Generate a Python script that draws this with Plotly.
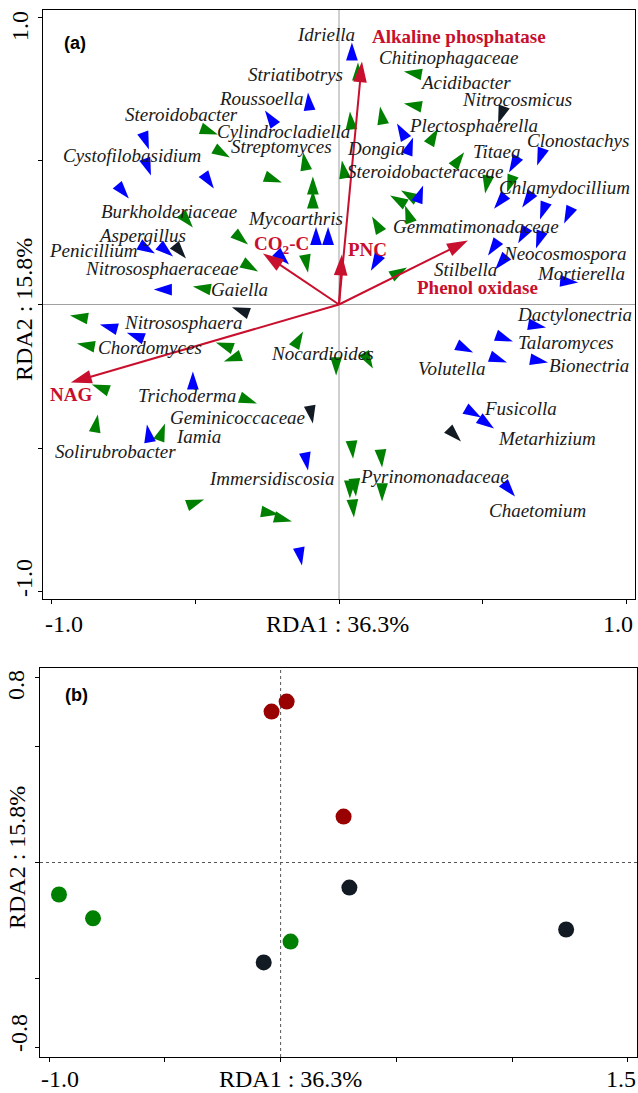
import plotly.graph_objects as go

RED = "#C8102E"
BLUE = "#0000FF"
GREEN = "#008000"
BLACK = "#121A24"
DARKRED = "#990000"
SERIF = "Liberation Serif"
W, H = 638, 1093

# ---------------- Panel (a): taxa scores (arrowhead tips) and orientation (deg) ----
blue_x = [0.045, -0.108, -0.258, 0.202, 0.258, -0.662, -0.655, -0.436, 0.690, 0.592,
          0.293, 0.540, 0.638, 0.700, 0.784, 0.624, 0.686, 0.519, 0.544, 0.833,
          0.111, 0.721, 0.606, 0.467, 0.585, 0.728, -0.732, -0.641, -0.578, -0.174,
          -0.645, -0.833, -0.739, -0.509, -0.669, -0.108, -0.129, 0.495, 0.540, 0.613,
          -0.080, -0.038]
blue_y = [0.913, 0.739, 0.676, 0.631, 0.582, 0.540, 0.449, 0.404, 0.484, 0.460,
          0.415, 0.334, 0.338, 0.296, 0.282, 0.213, 0.195, 0.171, 0.122, 0.077,
          0.118, -0.080, -0.129, -0.167, -0.202, -0.202, 0.369, 0.178, 0.167, 0.139,
          0.052, -0.070, -0.098, -0.233, -0.418, -0.578, -0.909, -0.394, -0.432, -0.669,
          0.270, 0.270]
blue_ang = [0, -5, -35, -30, 20, 160, 160, 145, 200, 210,
            20, 220, 215, 200, 205, 210, 200, 215, 220, 95,
            210, 100, 110, 115, 110, 100, 140, 120, 130, 135,
            -90, -75, -70, 0, -10, 170, 170, 120, 125, 140,
            0, 0]

green_x = [0.066, 0.226, 0.226, 0.038, 0.143, 0.345, 0.436, -0.422, -0.380, -0.199,
           -0.125, -0.091, -0.091, 0.010, 0.509, 0.585, 0.178, 0.216, 0.230, 0.115,
           0.237, 0.118, -0.010, -0.509, -0.317, -0.108, -0.282, -0.509, -0.937, -0.913,
           -0.429, -0.401, -0.125, -0.861, -0.286, -0.840, -0.606, -0.470, -0.209, -0.164,
           0.049, 0.150, 0.038, 0.059, 0.150, 0.052]
green_y = [0.843, 0.812, 0.700, 0.672, 0.690, 0.613, 0.530, 0.592, 0.512, 0.425,
           0.530, 0.446, 0.397, 0.502, 0.387, 0.390, 0.380, 0.397, 0.345, 0.307,
           0.129, -0.223, -0.247, 0.268, 0.209, 0.111, 0.115, 0.063, -0.038, -0.136,
           -0.132, -0.199, -0.094, -0.279, -0.345, -0.383, -0.415, -0.679, -0.732, -0.756,
           -0.537, -0.568, -0.676, -0.669, -0.686, -0.742]
green_ang = [0, -80, -80, -5, -10, 30, 37, 110, 120, 110,
             -10, 0, 0, -10, 190, 200, -60, -60, -20, -30,
             60, 150, 180, 140, 130, 170, 120, -80, -80, -80,
             -70, -110, 30, -70, 110, 10, 20, 70, 100, 105,
             175, 175, 180, 175, 180, 175]

black_x = [0.554, -0.533, -0.373, -0.091, 0.425]
black_y = [0.631, 0.160, -0.010, -0.415, -0.477]
black_ang = [200, 140, -70, 170, 135]

# Taxon names and where their labels sit
taxa = ["Idriella", "Chitinophagaceae", "Striatibotrys", "Acidibacter", "Roussoella",
        "Nitrocosmicus", "Steroidobacter", "Plectosphaerella", "Cylindrocladiella",
        "Clonostachys", "Streptomyces", "Dongia", "Titaea", "Cystofilobasidium",
        "Steroidobacteraceae", "Chlamydocillium", "Burkholderiaceae", "Mycoarthris",
        "Gemmatimonadaceae", "Aspergillus", "Penicillium", "Neocosmospora",
        "Nitrososphaeraceae", "Stilbella", "Mortierella", "Gaiella", "Dactylonectria",
        "Nitrososphaera", "Talaromyces", "Chordomyces", "Nocardioides", "Bionectria",
        "Volutella", "Trichoderma", "Fusicolla", "Geminicoccaceae", "Iamia",
        "Metarhizium", "Solirubrobacter", "Pyrinomonadaceae", "Immersidiscosia",
        "Chaetomium"]
taxa_lx = [-0.045, 0.380, -0.153, 0.439, -0.272, 0.620, -0.547, 0.470, -0.195,
           0.833, -0.199, 0.129, 0.551, -0.721, 0.303, 0.784, -0.592, -0.153,
           0.477, -0.686, -0.854, 0.787, -0.620, 0.439, 0.843, -0.345, 0.819,
           -0.540, 0.791, -0.659, -0.056, 0.871, 0.394, -0.530, 0.631, -0.352,
           -0.491, 0.725, -0.780, 0.331, -0.233, 0.693]
taxa_ly = [0.941, 0.861, 0.801, 0.774, 0.718, 0.714, 0.662, 0.624, 0.603,
           0.571, 0.551, 0.544, 0.533, 0.519, 0.463, 0.408, 0.324, 0.300,
           0.272, 0.240, 0.188, 0.178, 0.125, 0.122, 0.108, 0.052, -0.035,
           -0.063, -0.132, -0.150, -0.171, -0.213, -0.223, -0.317, -0.362, -0.394,
           -0.460, -0.467, -0.512, -0.599, -0.606, -0.718]

# Environmental vectors
env_names = ["Alkaline phosphatase", "CO<sub>2</sub>-C", "PNC", "Phenol oxidase", "NAG"]
env_x = [0.080, -0.265, 0.010, 0.449, -0.934]
env_y = [0.847, 0.178, 0.174, 0.223, -0.272]
env_lx = [0.418, -0.202, 0.098, 0.484, -0.934]
env_ly = [0.934, 0.209, 0.192, 0.059, -0.314]

# ---------------- Panel (b): sample scores ----------------
samp_x_red = [-0.039, 0.026, 0.272]
samp_y_red = [0.651, 0.694, 0.198]
samp_x_green = [-0.957, -0.810, 0.043]
samp_y_green = [-0.138, -0.241, -0.341]
samp_x_black = [-0.073, 0.297, 1.233]
samp_y_black = [-0.431, -0.108, -0.289]

# Axis texts: (text, x px, y px, rotated)
axis_texts = [
    ("-1.0", 64, 624, False), ("RDA1 : 36.3%", 337, 624, False), ("1.0", 618, 624, False),
    ("1.0", 20, 26, True), ("RDA2 : 15.8%", 24, 310, True), ("-1.0", 24, 578, True),
    ("-1.0", 60, 1079, False), ("RDA1 : 36.3%", 290, 1079, False), ("1.5", 621, 1079, False),
    ("0.8", 16, 685, True), ("RDA2 : 15.8%", 17, 858, True), ("-0.8", 19, 1033, True),
]

fig = go.Figure()

# zero reference lines
fig.add_shape(type="line", xref="x", yref="y domain", x0=0, x1=0, y0=0, y1=1,
              line=dict(color="#A0A0A0", width=1), layer="below")
fig.add_shape(type="line", xref="x domain", yref="y", x0=0, x1=1, y0=0, y1=0,
              line=dict(color="#A0A0A0", width=1), layer="below")
fig.add_shape(type="line", xref="x2", yref="y2 domain", x0=0, x1=0, y0=0, y1=1,
              line=dict(color="#555555", width=1, dash="dot"), layer="below")
fig.add_shape(type="line", xref="x2 domain", yref="y2", x0=0, x1=1, y0=0, y1=0,
              line=dict(color="#555555", width=1, dash="dot"), layer="below")

for xs, ys, angs, col in [(green_x, green_y, green_ang, GREEN),
                          (blue_x, blue_y, blue_ang, BLUE),
                          (black_x, black_y, black_ang, BLACK)]:
    fig.add_trace(go.Scatter(
        x=xs, y=ys, mode="markers", xaxis="x", yaxis="y", hoverinfo="skip",
        marker=dict(symbol="arrow", size=19, angle=angs, color=col, opacity=1,
                    line=dict(width=0))))

for ex, ey in zip(env_x, env_y):
    fig.add_trace(go.Scatter(
        x=[0, ex], y=[0, ey], mode="lines+markers", xaxis="x", yaxis="y", hoverinfo="skip",
        line=dict(color=RED, width=2),
        marker=dict(symbol="arrow", size=[0, 22], angleref="previous", color=RED,
                    opacity=1, line=dict(width=0))))

annotations = []
for name, lx, ly in zip(taxa, taxa_lx, taxa_ly):
    annotations.append(dict(x=lx, y=ly, xref="x", yref="y", text=f"<i>{name}</i>",
                            showarrow=False, xanchor="center", yanchor="middle",
                            font=dict(family=SERIF, size=19, color="#1A1A1A")))
for name, lx, ly in zip(env_names, env_lx, env_ly):
    annotations.append(dict(x=lx, y=ly, xref="x", yref="y", text=f"<b>{name}</b>",
                            showarrow=False, xanchor="center", yanchor="middle",
                            font=dict(family=SERIF, size=19, color=RED)))

for xs, ys, col in [(samp_x_red, samp_y_red, DARKRED),
                    (samp_x_green, samp_y_green, GREEN),
                    (samp_x_black, samp_y_black, BLACK)]:
    fig.add_trace(go.Scatter(
        x=xs, y=ys, mode="markers", xaxis="x2", yaxis="y2", hoverinfo="skip",
        marker=dict(symbol="circle", size=16, color=col, line=dict(width=0))))

annotations.append(dict(x=75 / W, y=1 - 43 / H, xref="paper", yref="paper",
                        text="<b>(a)</b>", showarrow=False,
                        xanchor="center", yanchor="middle",
                        font=dict(family="Liberation Sans", size=18, color="black")))
annotations.append(dict(x=76 / W, y=1 - 695 / H, xref="paper", yref="paper",
                        text="<b>(b)</b>", showarrow=False,
                        xanchor="center", yanchor="middle",
                        font=dict(family="Liberation Sans", size=18, color="black")))

for txt, px, py, rot in axis_texts:
    annotations.append(dict(x=px / W, y=1 - py / H, xref="paper", yref="paper",
                            text=txt, showarrow=False, xanchor="center", yanchor="middle",
                            textangle=-90 if rot else 0,
                            font=dict(family=SERIF, size=24, color="black")))

axis_common = dict(showline=True, linecolor="black", linewidth=1, mirror=True,
                   ticks="outside", ticklen=4, tickcolor="black", showgrid=False,
                   zeroline=False, showticklabels=False, automargin=False)

fig.update_layout(
    width=W, height=H,
    margin=dict(l=0, r=0, t=0, b=0, pad=0, autoexpand=False),
    paper_bgcolor="white", plot_bgcolor="white", showlegend=False,
    annotations=annotations,
    xaxis=dict(domain=[43 / W, 635 / W], range=[-1.031, 1.031], anchor="y",
               tickvals=[-1, -0.5, 0, 0.5, 1], **axis_common),
    yaxis=dict(domain=[(H - 599) / H, (H - 10) / H], range=[-1.026, 1.026],
               anchor="x", tickvals=[-1, -0.5, 0, 0.5, 1], **axis_common),
    xaxis2=dict(domain=[40 / W, 637 / W], range=[-1.039, 1.539], anchor="y2",
                tickvals=[-1, -0.5, 0, 0.5, 1, 1.5], **axis_common),
    yaxis2=dict(domain=[(H - 1057) / H, (H - 668) / H], range=[-0.839, 0.839],
                anchor="x2", tickvals=[-0.8, -0.5, 0, 0.5, 0.8], **axis_common),
)

fig.write_html("out.html")
